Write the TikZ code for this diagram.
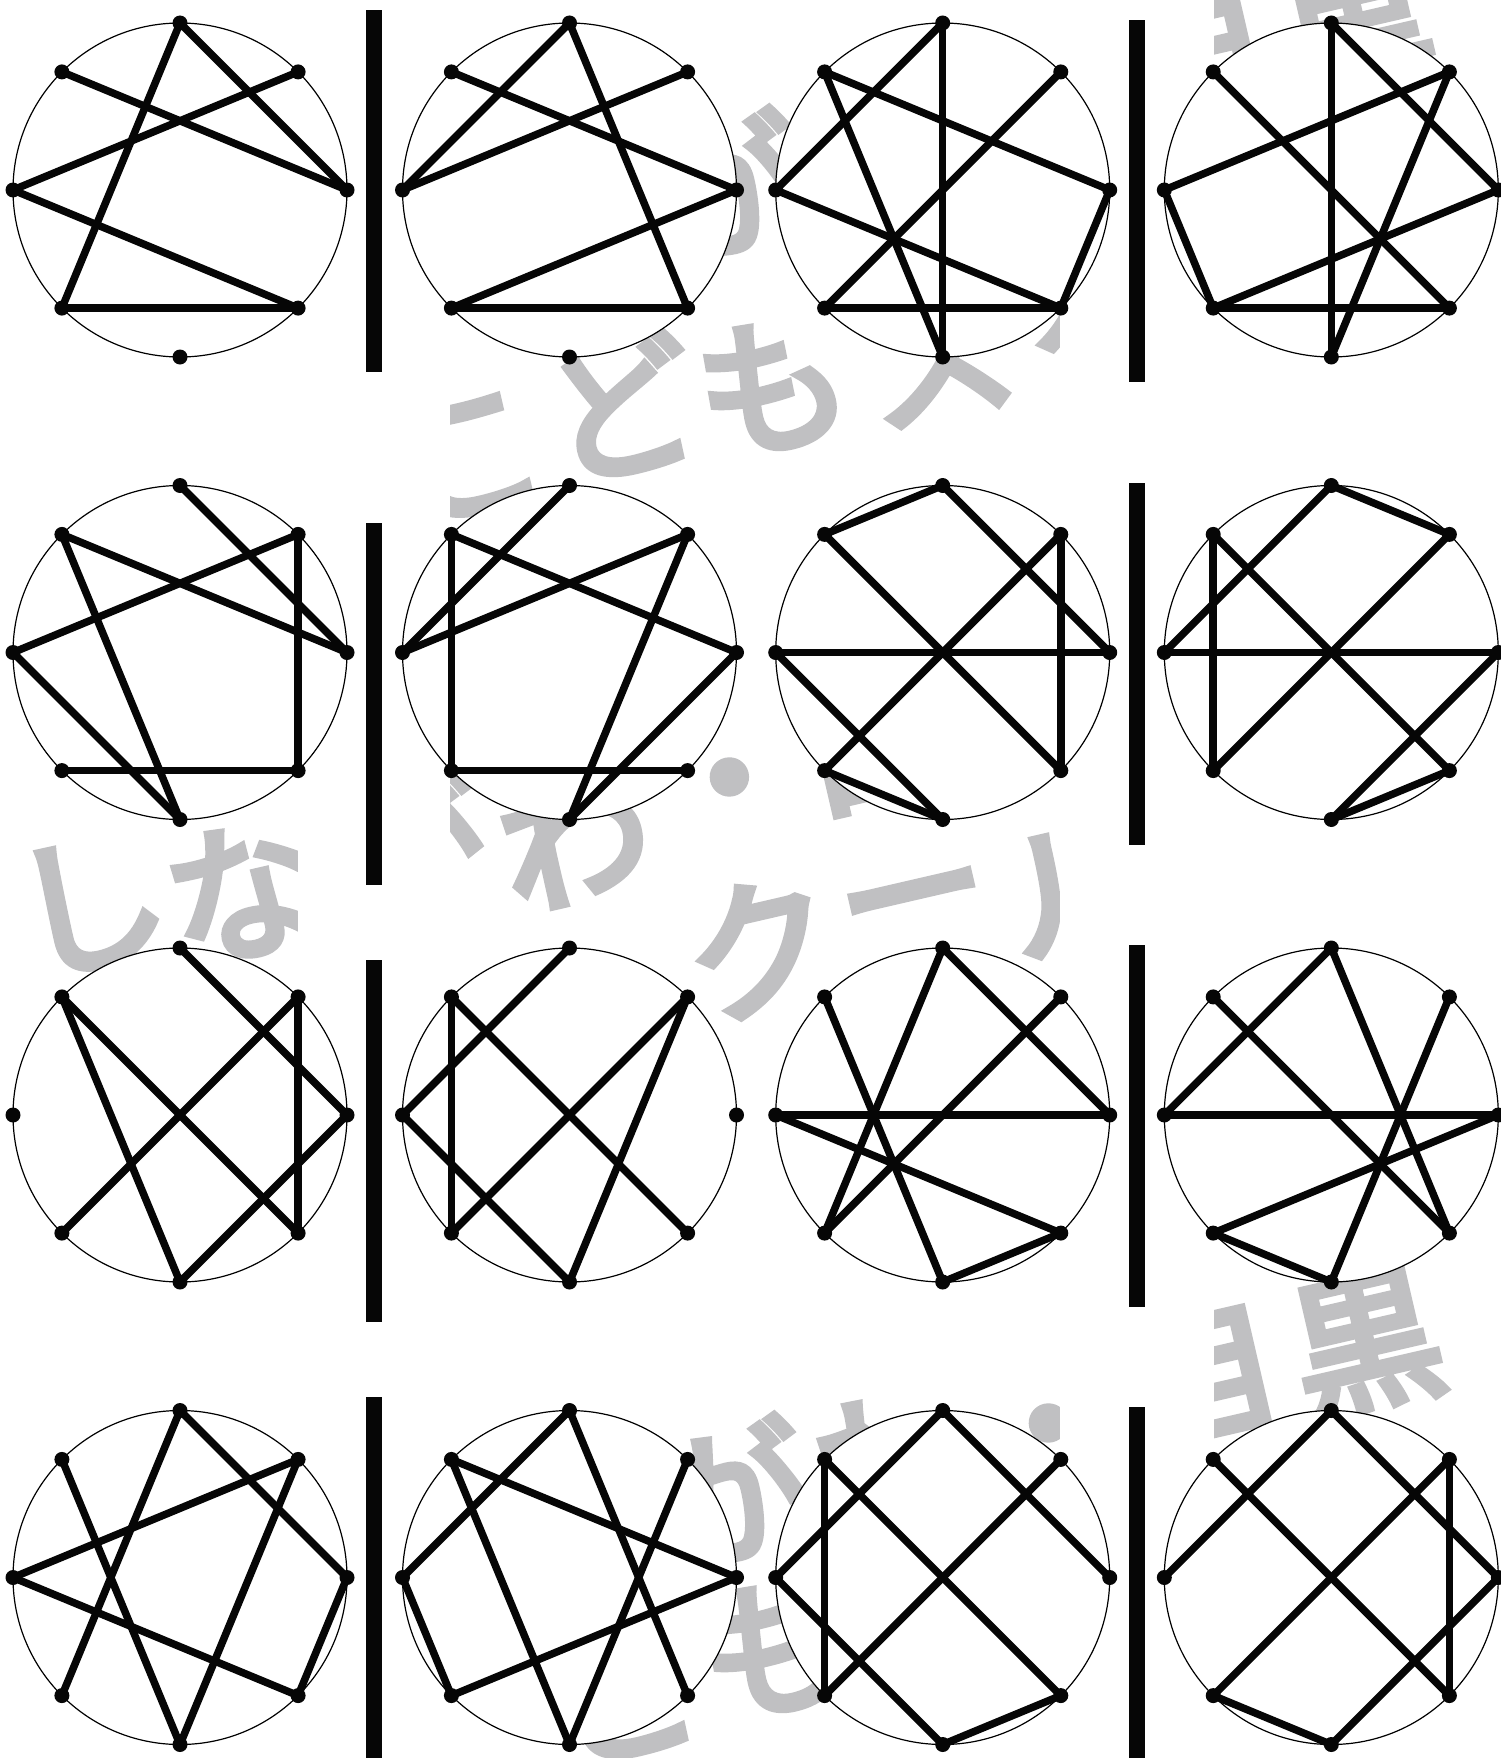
\documentclass[tikz,border=0pt]{standalone}
\usepackage{fontspec}
\newfontfamily\cjk{Noto Sans CJK JP}[FakeBold=5]
\definecolor{wmgray}{RGB}{192,192,194}
\newcommand\ringcell[4]{%
  \draw[ring] (#2,#3) circle[radius=167pt];
  \foreach \k in {0,...,7}{
    \coordinate (#1-\k) at ({#2+167*cos(90-45*\k)},{#3-167*sin(90-45*\k)});
  }
  \foreach \a/\b in {#4}{\draw[chord] (#1-\a) -- (#1-\b);}
  \foreach \k in {0,...,7}{\node[dot] (#1-d\k) at (#1-\k) {};}
}
\begin{document}
\begin{tikzpicture}[x=1pt,y=-1pt,
  ring/.style={draw=black,line width=1.2pt,fill=white},
  chord/.style={line width=7.5pt,line cap=round,draw=black!95!gray},
  dot/.style={circle,fill=black!95!gray,inner sep=0pt,minimum size=15pt},
  bar/.style={fill=black!95!gray,inner sep=0pt,minimum width=16pt,minimum height=362pt},
  band/.style={fill=white,draw=none},
  wm/.style={text=wmgray,font=\cjk\fontsize{150}{150}\selectfont,rotate=13,inner sep=0pt}]
\useasboundingbox (0,0) rectangle (1501,1758);
\clip (0,0) rectangle (1501,1758);
\fill[white] (0,0) rectangle (1501,1758);
% watermark, line 0
\node[wm] (w0a) at (727,185) {が};
\node[wm] (w0b) at (1201,72) {目};
\node[wm] (w0c) at (1359,36) {黒};
% line 1
\node[wm] (w1a) at (470,458) {こ};
\node[wm] (w1b) at (621,408) {ど};
\node[wm] (w1c) at (772,386) {も};
\node[wm] (w1d) at (938,362) {ス};
\node[wm] (w1e) at (1100,332) {ク};
% line 2
\node[wm] (w2a) at (90,905) {し};
\node[wm] (w2b) at (242,892) {な};
\node[wm] (w2c) at (410,846) {が};
\node[wm] (w2d) at (574,838) {わ};
\node[wm] (w2e) at (734,797) {・};
\node[wm] (w2f) at (872,742) {目};
\node[wm] (w2g) at (1030,708) {黒};
% line 3
\node[wm] (w3a) at (760,948) {ク};
\node[wm] (w3b) at (917,915) {ー};
\node[wm] (w3c) at (1080,888) {ル};
% line 4
\node[wm] (w4a) at (732,1492) {が};
\node[wm] (w4b) at (890,1460) {わ};
\node[wm] (w4c) at (1053,1443) {・};
\node[wm] (w4d) at (1207,1381) {目};
\node[wm] (w4e) at (1366,1344) {黒};
% line 5
\node[wm] (w5a) at (625,1690) {ど};
\node[wm] (w5b) at (775,1648) {も};
% white bands behind the bars
\fill[band] (298,0) rectangle (450,1758);
\fill[band] (1060,0) rectangle (1214,1758);
% cells
\ringcell{a}{180}{190}{0/5,0/2,7/2,1/6,6/3,5/3}
\ringcell{b}{569.5}{190}{0/6,0/3,7/2,1/6,2/5,5/3}
\ringcell{c}{942.7}{190}{0/4,0/6,7/2,7/4,1/5,6/3,5/3,2/3}
\ringcell{d}{1331.3}{190}{0/4,0/2,1/6,1/4,7/3,2/5,3/5,6/5}
\ringcell{e}{180}{652.5}{0/2,7/2,1/6,1/3,7/4,6/4,5/3}
\ringcell{f}{569.5}{652.5}{0/6,1/6,7/2,7/5,1/4,2/4,3/5}
\ringcell{g}{942.7}{652.5}{0/7,0/2,7/3,1/5,1/3,6/2,6/4,5/4}
\ringcell{h}{1331.3}{652.5}{0/1,0/6,1/5,7/3,7/5,2/6,2/4,3/4}
\ringcell{i}{180}{1115}{0/2,7/3,7/4,1/5,1/3,2/4}
\ringcell{j}{569.5}{1115}{0/6,1/5,1/4,7/3,7/5,6/4}
\ringcell{k}{942.7}{1115}{0/5,0/2,7/4,1/5,6/2,6/3,3/4}
\ringcell{l}{1331.3}{1115}{0/3,0/6,1/4,7/3,2/6,2/5,5/4}
\ringcell{m}{180}{1577.5}{0/2,0/5,7/4,1/6,1/4,6/3,2/3}
\ringcell{n}{569.5}{1577.5}{0/6,0/3,1/4,7/2,7/4,2/5,6/5}
\ringcell{o}{942.7}{1577.5}{0/6,0/2,7/5,7/3,1/5,6/4,3/4}
\ringcell{p}{1331.3}{1577.5}{0/2,0/6,1/3,1/5,7/3,2/4,5/4}
% bars
\node[bar] (bar11) at (374,191) {};
\node[bar] (bar12) at (1136.5,201) {};
\node[bar] (bar21) at (374,704) {};
\node[bar] (bar22) at (1136.5,664) {};
\node[bar] (bar31) at (374,1141) {};
\node[bar] (bar32) at (1136.5,1126) {};
\node[bar] (bar41) at (374,1578) {};
\node[bar] (bar42) at (1136.5,1588) {};
\end{tikzpicture}
\end{document}
